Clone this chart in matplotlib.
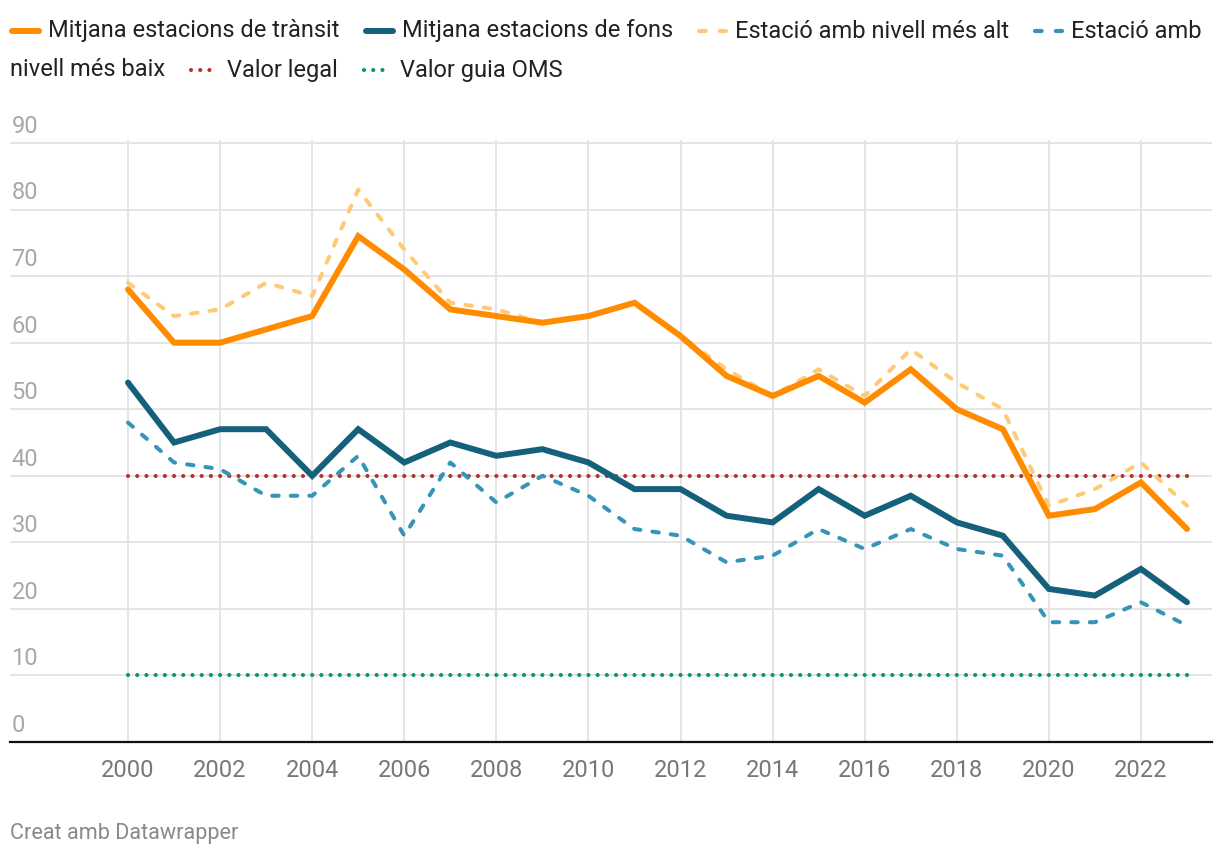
import matplotlib
matplotlib.use("Agg")
import matplotlib.pyplot as plt
from matplotlib.lines import Line2D

plt.rcParams['font.family'] = ['Roboto', 'DejaVu Sans']

# NO2 annual averages (ug/m3), Catalonia
years = list(range(2000, 2024))
transit_avg = [68, 60, 60, 62, 64, 76, 71, 65, 64, 63, 64, 66,
               61, 55, 52, 55, 51, 56, 50, 47, 34, 35, 39, 32]
background_avg = [54, 45, 47, 47, 40, 47, 42, 45, 43, 44, 42, 38,
                  38, 34, 33, 38, 34, 37, 33, 31, 23, 22, 26, 21]
station_max = [69, 64, 65, 69, 67, 83, 74, 66, 65, 63, 64, 66,
               61, 56, 52, 56, 52, 59, 54, 50, 35.5, 38, 42, 35.5]
station_min = [48, 42, 41, 37, 37, 43, 31, 42, 36, 40, 37, 32,
               31, 27, 28, 32, 29, 32, 29, 28, 18, 18, 21, 17.5]
legal_value = 40
who_value = 10

yticks = list(range(0, 100, 10))
xticks = list(range(2000, 2024, 2))

C_TRANSIT = '#ff8c00'
C_BACK = '#15607a'
C_MAX = '#ffca76'
C_MIN = '#3594b8'
C_LEGAL = '#b5352a'
C_WHO = '#0b9477'

DOT = (0, (0.01, 2.2))
DASH = (0, (1.6, 3.0))

W, H = 1220, 858
fig = plt.figure(figsize=(W / 100, H / 100), dpi=100)

# axes box in pixels: left 10, right 1212, bottom 742 (y=0), top ~140
px_year = 1059 / 23
ax = fig.add_axes([10 / W, (H - 742) / H, 1202 / W, (742 - 139.7) / H])
ax.set_xlim(2000 - 118 / px_year, 2023 + 25 / px_year)
ax.set_ylim(0, 90.5)

for s in ['top', 'right', 'left']:
    ax.spines[s].set_visible(False)
ax.spines['bottom'].set_color('#111111')
ax.spines['bottom'].set_linewidth(1.6)
ax.spines['bottom'].set_zorder(5)

ax.set_yticks(yticks)
ax.set_yticklabels([])
ax.set_xticks(xticks)
ax.set_xticklabels([str(x) for x in xticks], fontsize=17, color='#777777')
ax.tick_params(axis='both', length=0)
ax.tick_params(axis='x', pad=12)
ax.grid(True, color='#e3e3e3', linewidth=1.3, zorder=0)
ax.set_axisbelow(True)

for v in yticks:
    ax.annotate(str(v), xy=(0, v), xycoords=('axes fraction', 'data'),
                xytext=(1, 7.3), textcoords='offset points',
                ha='left', va='baseline', fontsize=17, color='#a8a8a8')

# reference lines
ax.hlines(legal_value, years[0], years[-1], colors=C_LEGAL, linewidth=3.0,
          linestyles=DOT, capstyle='round', zorder=3)
ax.hlines(who_value, years[0], years[-1], colors=C_WHO, linewidth=3.0,
          linestyles=DOT, capstyle='round', zorder=3)

ax.plot(years, station_max, color=C_MAX, linewidth=2.9, linestyle=DASH,
        dash_capstyle='round', zorder=3)
ax.plot(years, station_min, color=C_MIN, linewidth=2.9, linestyle=DASH,
        dash_capstyle='round', zorder=3)
ax.plot(years, background_avg, color=C_BACK, linewidth=4.3,
        solid_capstyle='round', solid_joinstyle='miter', zorder=4)
ax.plot(years, transit_avg, color=C_TRANSIT, linewidth=4.3,
        solid_capstyle='round', solid_joinstyle='miter', zorder=4)

# legend drawn by hand (one entry wraps onto the second row)
renderer = fig.canvas.get_renderer()

def swatch(x0, y, color, style):
    yy = 1 - y / H
    xs = [(x0 + 2) / W, (x0 + 29) / W]
    if style == 'solid':
        ln = Line2D(xs, [yy, yy], color=color, linewidth=4.3, solid_capstyle='round')
    elif style == 'dashed':
        ln = Line2D(xs, [yy, yy], color=color, linewidth=3, linestyle=(0, (1.6, 3.4)),
                    dash_capstyle='round')
    else:
        ln = Line2D(xs, [yy, yy], color=color, linewidth=3, linestyle=DOT,
                    dash_capstyle='round')
    fig.add_artist(ln)
    return x0 + 38

def label(x, y, txt):
    t = fig.text(x / W, 1 - y / H, txt, fontsize=17, color='#222222',
                 ha='left', va='center')
    return x + t.get_window_extent(renderer).width + 24

row1, row2 = 31, 70
x = 10
x = label(swatch(x, row1, C_TRANSIT, 'solid'), row1, 'Mitjana estacions de trànsit')
x = label(swatch(x, row1, C_BACK, 'solid'), row1, 'Mitjana estacions de fons')
x = label(swatch(x, row1, C_MAX, 'dashed'), row1, 'Estació amb nivell més alt')
label(swatch(x, row1, C_MIN, 'dashed'), row1, 'Estació amb')
x = label(10, row2, 'nivell més baix')
x = label(swatch(x, row2, C_LEGAL, 'dotted'), row2, 'Valor legal')
label(swatch(x, row2, C_WHO, 'dotted'), row2, 'Valor guia OMS')

fig.text(10 / W, 1 - 833 / H, 'Creat amb Datawrapper', fontsize=15.6,
         color='#8a8a8a', ha='left', va='center')

fig.savefig('out.png', dpi=100)
